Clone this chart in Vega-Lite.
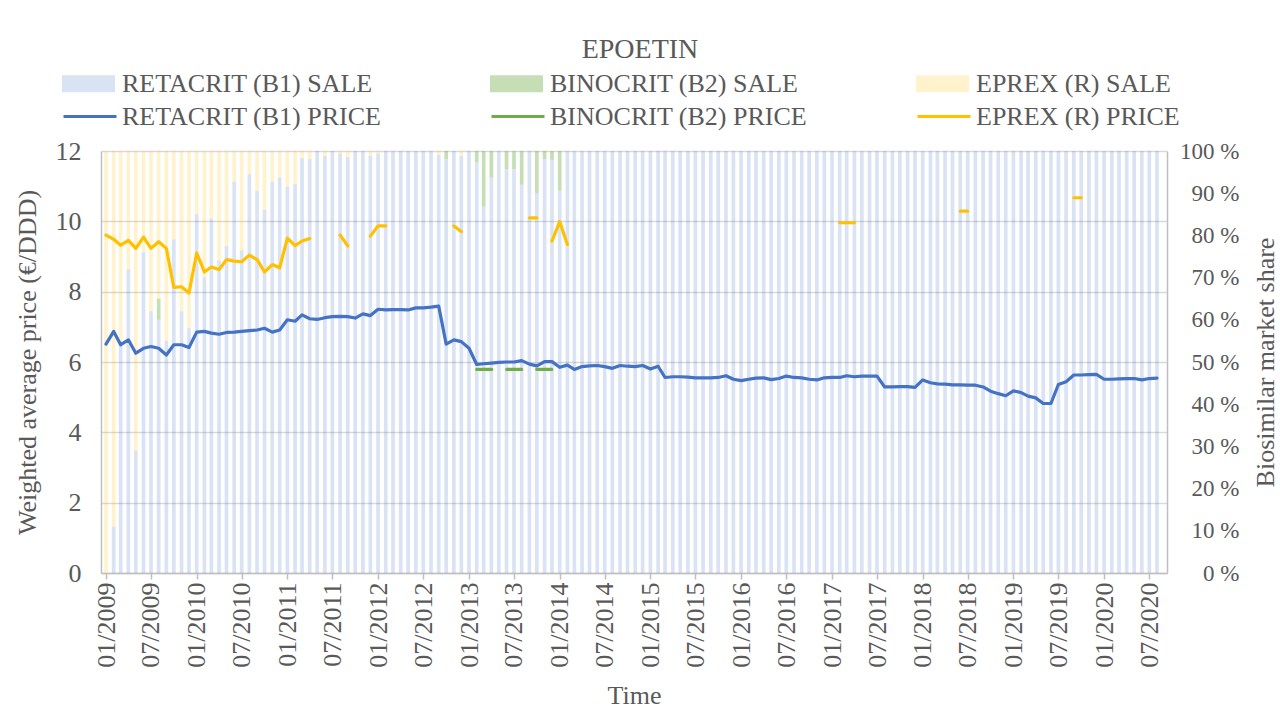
{
  "$schema": "https://vega.github.io/schema/vega-lite/v6.json",
  "width": 1066,
  "height": 422,
  "autosize": {"type": "none"},
  "padding": {"left": 101, "top": 151, "right": 113, "bottom": 137},
  "background": "white",
  "config": {
    "font": "Liberation Serif",
    "view": {"stroke": null},
    "axis": {
      "labelFont": "Liberation Serif", "titleFont": "Liberation Serif",
      "labelFontSize": 26, "titleFontSize": 26,
      "labelColor": "#595959", "titleColor": "#595959", "titleFontWeight": "normal",
      "domainColor": "#bfbfbf", "domainWidth": 1.5, "tickColor": "#bfbfbf",
      "gridColor": "#d9d9d9", "gridWidth": 1.3
    },
    "legend": {"labelFont": "Liberation Serif", "labelFontSize": 26, "labelColor": "#595959", "labelLimit": 500, "padding": 0}
  },
  "title": {"text": "EPOETIN", "font": "Liberation Serif", "fontSize": 28, "fontWeight": "normal", "color": "#595959", "anchor": "middle", "dx": 6, "dy": 7, "offset": 0},
  "data": {"values": [
    {"m":"2009-01-01","b1s":0,"b2s":0,"rs":100,"b1p":6.51,"b2p":null,"rp":9.61},
    {"m":"2009-02-01","b1s":11,"b2s":0,"rs":89,"b1p":6.87,"b2p":null,"rp":9.49},
    {"m":"2009-03-01","b1s":55,"b2s":0,"rs":45,"b1p":6.49,"b2p":null,"rp":9.32},
    {"m":"2009-04-01","b1s":72,"b2s":0,"rs":28,"b1p":6.63,"b2p":null,"rp":9.46},
    {"m":"2009-05-01","b1s":29,"b2s":0,"rs":71,"b1p":6.25,"b2p":null,"rp":9.23},
    {"m":"2009-06-01","b1s":76,"b2s":0,"rs":24,"b1p":6.39,"b2p":null,"rp":9.55},
    {"m":"2009-07-01","b1s":62,"b2s":0,"rs":38,"b1p":6.44,"b2p":null,"rp":9.23},
    {"m":"2009-08-01","b1s":60,"b2s":5,"rs":35,"b1p":6.39,"b2p":null,"rp":9.42},
    {"m":"2009-09-01","b1s":55,"b2s":0,"rs":45,"b1p":6.20,"b2p":null,"rp":9.23},
    {"m":"2009-10-01","b1s":79,"b2s":0,"rs":21,"b1p":6.49,"b2p":null,"rp":8.12},
    {"m":"2009-11-01","b1s":62,"b2s":0,"rs":38,"b1p":6.49,"b2p":null,"rp":8.14},
    {"m":"2009-12-01","b1s":58,"b2s":0,"rs":42,"b1p":6.41,"b2p":null,"rp":7.96},
    {"m":"2010-01-01","b1s":85,"b2s":0,"rs":15,"b1p":6.85,"b2p":null,"rp":9.10},
    {"m":"2010-02-01","b1s":70,"b2s":0,"rs":30,"b1p":6.87,"b2p":null,"rp":8.56},
    {"m":"2010-03-01","b1s":84,"b2s":0,"rs":16,"b1p":6.82,"b2p":null,"rp":8.70},
    {"m":"2010-04-01","b1s":74,"b2s":0,"rs":26,"b1p":6.79,"b2p":null,"rp":8.63},
    {"m":"2010-05-01","b1s":77.5,"b2s":0,"rs":22.5,"b1p":6.84,"b2p":null,"rp":8.91},
    {"m":"2010-06-01","b1s":92.7,"b2s":0,"rs":7.3,"b1p":6.85,"b2p":null,"rp":8.87},
    {"m":"2010-07-01","b1s":76.4,"b2s":0,"rs":23.6,"b1p":6.87,"b2p":null,"rp":8.85},
    {"m":"2010-08-01","b1s":94.5,"b2s":0,"rs":5.5,"b1p":6.89,"b2p":null,"rp":9.04},
    {"m":"2010-09-01","b1s":90.6,"b2s":0,"rs":9.4,"b1p":6.91,"b2p":null,"rp":8.91},
    {"m":"2010-10-01","b1s":86,"b2s":0,"rs":14,"b1p":6.96,"b2p":null,"rp":8.56},
    {"m":"2010-11-01","b1s":92.7,"b2s":0,"rs":7.3,"b1p":6.85,"b2p":null,"rp":8.77},
    {"m":"2010-12-01","b1s":93.7,"b2s":0,"rs":6.3,"b1p":6.91,"b2p":null,"rp":8.68},
    {"m":"2011-01-01","b1s":91.5,"b2s":0,"rs":8.5,"b1p":7.20,"b2p":null,"rp":9.52},
    {"m":"2011-02-01","b1s":92.1,"b2s":0,"rs":7.9,"b1p":7.16,"b2p":null,"rp":9.31},
    {"m":"2011-03-01","b1s":98.3,"b2s":0,"rs":1.7,"b1p":7.34,"b2p":null,"rp":9.44},
    {"m":"2011-04-01","b1s":98.1,"b2s":0,"rs":1.9,"b1p":7.23,"b2p":null,"rp":9.51},
    {"m":"2011-05-01","b1s":100,"b2s":0,"rs":0,"b1p":7.21,"b2p":null,"rp":null},
    {"m":"2011-06-01","b1s":98.9,"b2s":0,"rs":1.1,"b1p":7.26,"b2p":null,"rp":null},
    {"m":"2011-07-01","b1s":100,"b2s":0,"rs":0,"b1p":7.29,"b2p":null,"rp":null},
    {"m":"2011-08-01","b1s":99.4,"b2s":0,"rs":0.6,"b1p":7.30,"b2p":null,"rp":9.61},
    {"m":"2011-09-01","b1s":98.5,"b2s":0,"rs":1.5,"b1p":7.29,"b2p":null,"rp":9.30},
    {"m":"2011-10-01","b1s":100,"b2s":0,"rs":0,"b1p":7.25,"b2p":null,"rp":null},
    {"m":"2011-11-01","b1s":100,"b2s":0,"rs":0,"b1p":7.37,"b2p":null,"rp":null},
    {"m":"2011-12-01","b1s":98.9,"b2s":0,"rs":1.1,"b1p":7.32,"b2p":null,"rp":9.58},
    {"m":"2012-01-01","b1s":99.4,"b2s":0,"rs":0.6,"b1p":7.50,"b2p":null,"rp":9.87},
    {"m":"2012-02-01","b1s":100,"b2s":0,"rs":0,"b1p":7.48,"b2p":null,"rp":9.87},
    {"m":"2012-03-01","b1s":100,"b2s":0,"rs":0,"b1p":7.49,"b2p":null,"rp":null},
    {"m":"2012-04-01","b1s":100,"b2s":0,"rs":0,"b1p":7.49,"b2p":null,"rp":null},
    {"m":"2012-05-01","b1s":100,"b2s":0,"rs":0,"b1p":7.48,"b2p":null,"rp":null},
    {"m":"2012-06-01","b1s":100,"b2s":0,"rs":0,"b1p":7.54,"b2p":null,"rp":null},
    {"m":"2012-07-01","b1s":100,"b2s":0,"rs":0,"b1p":7.54,"b2p":null,"rp":null},
    {"m":"2012-08-01","b1s":100,"b2s":0,"rs":0,"b1p":7.56,"b2p":null,"rp":null},
    {"m":"2012-09-01","b1s":99.1,"b2s":0,"rs":0.9,"b1p":7.59,"b2p":null,"rp":null},
    {"m":"2012-10-01","b1s":98.1,"b2s":1.9,"rs":0,"b1p":6.51,"b2p":null,"rp":null},
    {"m":"2012-11-01","b1s":100,"b2s":0,"rs":0,"b1p":6.63,"b2p":null,"rp":9.87},
    {"m":"2012-12-01","b1s":98.9,"b2s":0,"rs":1.1,"b1p":6.58,"b2p":null,"rp":9.71},
    {"m":"2013-01-01","b1s":100,"b2s":0,"rs":0,"b1p":6.39,"b2p":null,"rp":null},
    {"m":"2013-02-01","b1s":97.3,"b2s":2.7,"rs":0,"b1p":5.93,"b2p":5.79,"rp":null},
    {"m":"2013-03-01","b1s":86.8,"b2s":13.2,"rs":0,"b1p":5.95,"b2p":5.79,"rp":null},
    {"m":"2013-04-01","b1s":93.7,"b2s":6.3,"rs":0,"b1p":5.97,"b2p":5.79,"rp":null},
    {"m":"2013-05-01","b1s":100,"b2s":0,"rs":0,"b1p":5.99,"b2p":5.79,"rp":null},
    {"m":"2013-06-01","b1s":95.7,"b2s":4.3,"rs":0,"b1p":6.00,"b2p":5.79,"rp":null},
    {"m":"2013-07-01","b1s":95.7,"b2s":4.3,"rs":0,"b1p":6.00,"b2p":5.79,"rp":null},
    {"m":"2013-08-01","b1s":92.1,"b2s":7.9,"rs":0,"b1p":6.04,"b2p":5.79,"rp":null},
    {"m":"2013-09-01","b1s":100,"b2s":0,"rs":0,"b1p":5.94,"b2p":5.79,"rp":10.10},
    {"m":"2013-10-01","b1s":90,"b2s":10,"rs":0,"b1p":5.89,"b2p":5.79,"rp":10.10},
    {"m":"2013-11-01","b1s":98.1,"b2s":1.9,"rs":0,"b1p":6.01,"b2p":5.79,"rp":null},
    {"m":"2013-12-01","b1s":97.9,"b2s":2.1,"rs":0,"b1p":6.01,"b2p":5.79,"rp":9.44},
    {"m":"2014-01-01","b1s":90.7,"b2s":9.3,"rs":0,"b1p":5.85,"b2p":5.73,"rp":9.99},
    {"m":"2014-02-01","b1s":100,"b2s":0,"rs":0,"b1p":5.91,"b2p":null,"rp":9.34},
    {"m":"2014-03-01","b1s":100,"b2s":0,"rs":0,"b1p":5.79,"b2p":null,"rp":null},
    {"m":"2014-04-01","b1s":100,"b2s":0,"rs":0,"b1p":5.87,"b2p":null,"rp":null},
    {"m":"2014-05-01","b1s":100,"b2s":0,"rs":0,"b1p":5.89,"b2p":null,"rp":null},
    {"m":"2014-06-01","b1s":100,"b2s":0,"rs":0,"b1p":5.90,"b2p":null,"rp":null},
    {"m":"2014-07-01","b1s":100,"b2s":0,"rs":0,"b1p":5.87,"b2p":null,"rp":null},
    {"m":"2014-08-01","b1s":100,"b2s":0,"rs":0,"b1p":5.82,"b2p":null,"rp":null},
    {"m":"2014-09-01","b1s":100,"b2s":0,"rs":0,"b1p":5.90,"b2p":null,"rp":null},
    {"m":"2014-10-01","b1s":100,"b2s":0,"rs":0,"b1p":5.88,"b2p":null,"rp":null},
    {"m":"2014-11-01","b1s":100,"b2s":0,"rs":0,"b1p":5.87,"b2p":null,"rp":null},
    {"m":"2014-12-01","b1s":100,"b2s":0,"rs":0,"b1p":5.90,"b2p":null,"rp":null},
    {"m":"2015-01-01","b1s":100,"b2s":0,"rs":0,"b1p":5.80,"b2p":null,"rp":null},
    {"m":"2015-02-01","b1s":100,"b2s":0,"rs":0,"b1p":5.88,"b2p":null,"rp":null},
    {"m":"2015-03-01","b1s":100,"b2s":0,"rs":0,"b1p":5.56,"b2p":null,"rp":null},
    {"m":"2015-04-01","b1s":100,"b2s":0,"rs":0,"b1p":5.58,"b2p":null,"rp":null},
    {"m":"2015-05-01","b1s":100,"b2s":0,"rs":0,"b1p":5.58,"b2p":null,"rp":null},
    {"m":"2015-06-01","b1s":100,"b2s":0,"rs":0,"b1p":5.57,"b2p":null,"rp":null},
    {"m":"2015-07-01","b1s":100,"b2s":0,"rs":0,"b1p":5.55,"b2p":null,"rp":null},
    {"m":"2015-08-01","b1s":100,"b2s":0,"rs":0,"b1p":5.55,"b2p":null,"rp":null},
    {"m":"2015-09-01","b1s":100,"b2s":0,"rs":0,"b1p":5.55,"b2p":null,"rp":null},
    {"m":"2015-10-01","b1s":100,"b2s":0,"rs":0,"b1p":5.56,"b2p":null,"rp":null},
    {"m":"2015-11-01","b1s":100,"b2s":0,"rs":0,"b1p":5.61,"b2p":null,"rp":null},
    {"m":"2015-12-01","b1s":100,"b2s":0,"rs":0,"b1p":5.51,"b2p":null,"rp":null},
    {"m":"2016-01-01","b1s":100,"b2s":0,"rs":0,"b1p":5.47,"b2p":null,"rp":null},
    {"m":"2016-02-01","b1s":100,"b2s":0,"rs":0,"b1p":5.51,"b2p":null,"rp":null},
    {"m":"2016-03-01","b1s":100,"b2s":0,"rs":0,"b1p":5.54,"b2p":null,"rp":null},
    {"m":"2016-04-01","b1s":100,"b2s":0,"rs":0,"b1p":5.55,"b2p":null,"rp":null},
    {"m":"2016-05-01","b1s":100,"b2s":0,"rs":0,"b1p":5.50,"b2p":null,"rp":null},
    {"m":"2016-06-01","b1s":100,"b2s":0,"rs":0,"b1p":5.53,"b2p":null,"rp":null},
    {"m":"2016-07-01","b1s":100,"b2s":0,"rs":0,"b1p":5.60,"b2p":null,"rp":null},
    {"m":"2016-08-01","b1s":100,"b2s":0,"rs":0,"b1p":5.56,"b2p":null,"rp":null},
    {"m":"2016-09-01","b1s":100,"b2s":0,"rs":0,"b1p":5.55,"b2p":null,"rp":null},
    {"m":"2016-10-01","b1s":100,"b2s":0,"rs":0,"b1p":5.51,"b2p":null,"rp":null},
    {"m":"2016-11-01","b1s":100,"b2s":0,"rs":0,"b1p":5.49,"b2p":null,"rp":null},
    {"m":"2016-12-01","b1s":100,"b2s":0,"rs":0,"b1p":5.55,"b2p":null,"rp":null},
    {"m":"2017-01-01","b1s":100,"b2s":0,"rs":0,"b1p":5.56,"b2p":null,"rp":null},
    {"m":"2017-02-01","b1s":100,"b2s":0,"rs":0,"b1p":5.56,"b2p":null,"rp":9.96},
    {"m":"2017-03-01","b1s":100,"b2s":0,"rs":0,"b1p":5.61,"b2p":null,"rp":9.96},
    {"m":"2017-04-01","b1s":100,"b2s":0,"rs":0,"b1p":5.58,"b2p":null,"rp":9.96},
    {"m":"2017-05-01","b1s":100,"b2s":0,"rs":0,"b1p":5.60,"b2p":null,"rp":null},
    {"m":"2017-06-01","b1s":100,"b2s":0,"rs":0,"b1p":5.60,"b2p":null,"rp":null},
    {"m":"2017-07-01","b1s":100,"b2s":0,"rs":0,"b1p":5.60,"b2p":null,"rp":null},
    {"m":"2017-08-01","b1s":100,"b2s":0,"rs":0,"b1p":5.29,"b2p":null,"rp":null},
    {"m":"2017-09-01","b1s":100,"b2s":0,"rs":0,"b1p":5.29,"b2p":null,"rp":null},
    {"m":"2017-10-01","b1s":100,"b2s":0,"rs":0,"b1p":5.30,"b2p":null,"rp":null},
    {"m":"2017-11-01","b1s":100,"b2s":0,"rs":0,"b1p":5.30,"b2p":null,"rp":null},
    {"m":"2017-12-01","b1s":100,"b2s":0,"rs":0,"b1p":5.28,"b2p":null,"rp":null},
    {"m":"2018-01-01","b1s":100,"b2s":0,"rs":0,"b1p":5.49,"b2p":null,"rp":null},
    {"m":"2018-02-01","b1s":100,"b2s":0,"rs":0,"b1p":5.41,"b2p":null,"rp":null},
    {"m":"2018-03-01","b1s":100,"b2s":0,"rs":0,"b1p":5.38,"b2p":null,"rp":null},
    {"m":"2018-04-01","b1s":100,"b2s":0,"rs":0,"b1p":5.37,"b2p":null,"rp":null},
    {"m":"2018-05-01","b1s":100,"b2s":0,"rs":0,"b1p":5.35,"b2p":null,"rp":null},
    {"m":"2018-06-01","b1s":100,"b2s":0,"rs":0,"b1p":5.35,"b2p":null,"rp":10.29},
    {"m":"2018-07-01","b1s":100,"b2s":0,"rs":0,"b1p":5.34,"b2p":null,"rp":10.29},
    {"m":"2018-08-01","b1s":100,"b2s":0,"rs":0,"b1p":5.34,"b2p":null,"rp":null},
    {"m":"2018-09-01","b1s":100,"b2s":0,"rs":0,"b1p":5.29,"b2p":null,"rp":null},
    {"m":"2018-10-01","b1s":100,"b2s":0,"rs":0,"b1p":5.17,"b2p":null,"rp":null},
    {"m":"2018-11-01","b1s":100,"b2s":0,"rs":0,"b1p":5.10,"b2p":null,"rp":null},
    {"m":"2018-12-01","b1s":100,"b2s":0,"rs":0,"b1p":5.04,"b2p":null,"rp":null},
    {"m":"2019-01-01","b1s":100,"b2s":0,"rs":0,"b1p":5.18,"b2p":null,"rp":null},
    {"m":"2019-02-01","b1s":100,"b2s":0,"rs":0,"b1p":5.13,"b2p":null,"rp":null},
    {"m":"2019-03-01","b1s":100,"b2s":0,"rs":0,"b1p":5.03,"b2p":null,"rp":null},
    {"m":"2019-04-01","b1s":100,"b2s":0,"rs":0,"b1p":4.98,"b2p":null,"rp":null},
    {"m":"2019-05-01","b1s":100,"b2s":0,"rs":0,"b1p":4.82,"b2p":null,"rp":null},
    {"m":"2019-06-01","b1s":100,"b2s":0,"rs":0,"b1p":4.82,"b2p":null,"rp":null},
    {"m":"2019-07-01","b1s":100,"b2s":0,"rs":0,"b1p":5.36,"b2p":null,"rp":null},
    {"m":"2019-08-01","b1s":100,"b2s":0,"rs":0,"b1p":5.44,"b2p":null,"rp":null},
    {"m":"2019-09-01","b1s":100,"b2s":0,"rs":0,"b1p":5.63,"b2p":null,"rp":10.67},
    {"m":"2019-10-01","b1s":100,"b2s":0,"rs":0,"b1p":5.63,"b2p":null,"rp":10.67},
    {"m":"2019-11-01","b1s":100,"b2s":0,"rs":0,"b1p":5.64,"b2p":null,"rp":null},
    {"m":"2019-12-01","b1s":100,"b2s":0,"rs":0,"b1p":5.65,"b2p":null,"rp":null},
    {"m":"2020-01-01","b1s":100,"b2s":0,"rs":0,"b1p":5.51,"b2p":null,"rp":null},
    {"m":"2020-02-01","b1s":100,"b2s":0,"rs":0,"b1p":5.51,"b2p":null,"rp":null},
    {"m":"2020-03-01","b1s":100,"b2s":0,"rs":0,"b1p":5.52,"b2p":null,"rp":null},
    {"m":"2020-04-01","b1s":100,"b2s":0,"rs":0,"b1p":5.53,"b2p":null,"rp":null},
    {"m":"2020-05-01","b1s":100,"b2s":0,"rs":0,"b1p":5.53,"b2p":null,"rp":null},
    {"m":"2020-06-01","b1s":100,"b2s":0,"rs":0,"b1p":5.49,"b2p":null,"rp":null},
    {"m":"2020-07-01","b1s":100,"b2s":0,"rs":0,"b1p":5.53,"b2p":null,"rp":null},
    {"m":"2020-08-01","b1s":100,"b2s":0,"rs":0,"b1p":5.54,"b2p":null,"rp":null}
  ]},
  "layer": [
    {
      "transform": [
        {"fold": ["b1s", "b2s", "rs"], "as": ["k", "v"]},
        {"calculate": "indexof(['b1s','b2s','rs'], datum.k)", "as": "o"}
      ],
      "mark": {"type": "bar", "width": 3.7, "clip": true},
      "encoding": {
        "x": {
          "field": "m", "type": "temporal",
          "scale": {"type": "utc", "domain": [{"year": 2009, "month": 1, "date": 1, "utc": true}, {"year": 2020, "month": 8, "date": 21, "utc": true}]},
          "axis": {
            "orient": "bottom", "format": "%m/%Y", "tickCount": {"interval": "month", "step": 6},
            "labelAngle": -90, "labelAlign": "right", "labelBaseline": "middle",
            "labelOverlap": false, "labelFlush": false, "labelBound": false,
            "ticks": true, "tickSize": 6, "tickWidth": 1.5, "labelPadding": 3,
            "grid": false, "title": "Time", "titlePadding": 15
          }
        },
        "y": {
          "field": "v", "type": "quantitative", "stack": "zero",
          "scale": {"domain": [0, 100]},
          "axis": {
            "orient": "right", "values": [0, 10, 20, 30, 40, 50, 60, 70, 80, 90, 100],
            "labelExpr": "datum.value + ' %'", "ticks": false, "labelFontSize": 23,
            "labelAlign": "right", "labelPadding": 72,
            "grid": false, "title": "Biosimilar market share",
            "titleAngle": 270, "titleBaseline": "top", "titlePadding": 13
          }
        },
        "fill": {
          "field": "k", "type": "nominal",
          "scale": {"domain": ["b1s", "b2s", "rs"], "range": ["rgba(68,114,196,0.2)", "rgba(112,173,71,0.4)", "rgba(255,192,0,0.2)"]},
          "legend": {
            "orient": "none", "legendX": -39, "legendY": -94, "direction": "horizontal", "columns": 3,
            "title": null, "symbolType": "M-1,-0.32H1V0.32H-1Z", "symbolSize": 2809, "symbolStrokeWidth": 0,
            "labelOffset": 7, "columnPadding": 117,
            "labelExpr": "datum.label == 'b1s' ? 'RETACRIT (B1) SALE' : datum.label == 'b2s' ? 'BINOCRIT (B2) SALE' : 'EPREX (R) SALE'"
          }
        },
        "order": {"field": "o", "type": "quantitative"}
      }
    },
    {
      "transform": [
        {"fold": ["b1p", "b2p", "rp"], "as": ["k", "p"]}
      ],
      "layer": [
        {
          "transform": [{"filter": "datum.k != 'b2p'"}],
          "mark": {"type": "line", "strokeWidth": 3.2, "strokeCap": "round", "strokeJoin": "round", "invalid": "break-paths-filter-domains"},
          "encoding": {
            "x": {"field": "m", "type": "temporal"},
            "y": {
              "field": "p", "type": "quantitative",
              "scale": {"domain": [0, 12]},
              "axis": {
                "orient": "left", "values": [0, 2, 4, 6, 8, 10, 12], "ticks": false, "labelPadding": 20,
                "grid": true, "title": "Weighted average price (€/DDD)", "titlePadding": 15
              }
            },
            "stroke": {
              "field": "k", "type": "nominal",
              "scale": {"domain": ["b1p", "b2p", "rp"], "range": ["#4472c4", "#70ad47", "#ffc000"]},
              "legend": {
                "orient": "none", "legendX": -39, "legendY": -62.5, "direction": "horizontal", "columns": 3,
                "title": null, "symbolType": "stroke", "symbolSize": 2809, "symbolStrokeWidth": 3,
                "labelOffset": 4, "columnPadding": 103,
                "labelExpr": "datum.label == 'b1p' ? 'RETACRIT (B1) PRICE' : datum.label == 'b2p' ? 'BINOCRIT (B2) PRICE' : 'EPREX (R) PRICE'"
              }
            }
          }
        },
        {
          "transform": [{"filter": "datum.k == 'b2p'"}],
          "mark": {"type": "line", "strokeWidth": 3.2, "strokeCap": "round", "strokeDash": [15, 15], "invalid": "break-paths-filter-domains"},
          "encoding": {
            "x": {"field": "m", "type": "temporal"},
            "y": {"field": "p", "type": "quantitative", "scale": {"domain": [0, 12]}},
            "stroke": {"field": "k", "type": "nominal", "legend": null}
          }
        }
      ]
    }
  ],
  "resolve": {"scale": {"y": "independent"}}
}
